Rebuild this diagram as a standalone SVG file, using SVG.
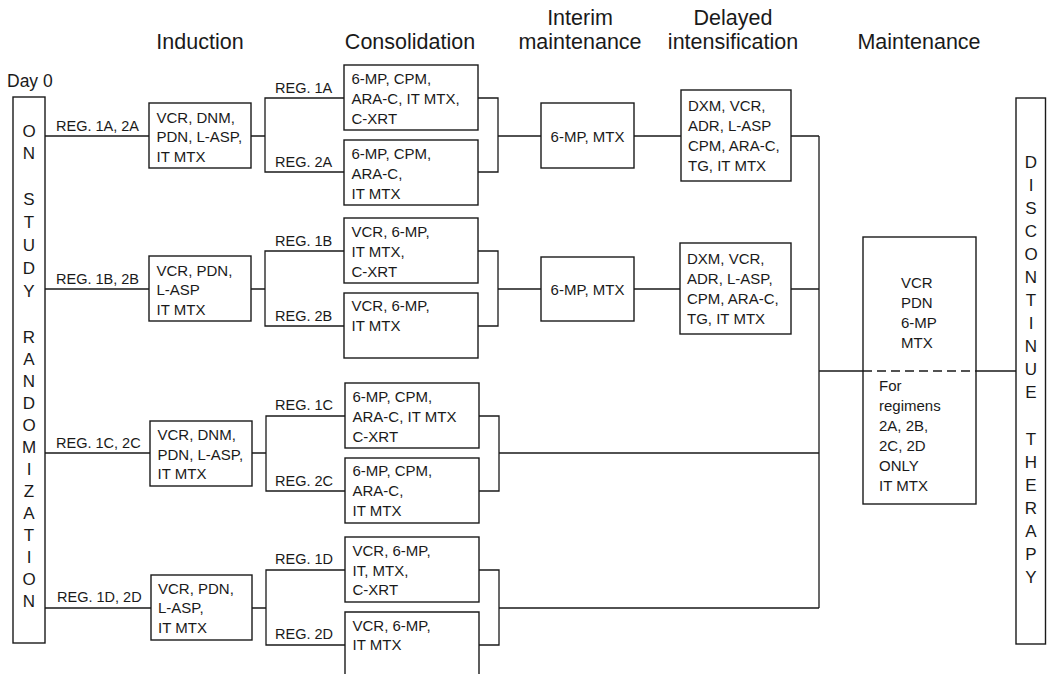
<svg xmlns="http://www.w3.org/2000/svg" width="1047" height="674" viewBox="0 0 1047 674">
<style>
.box{fill:none;stroke:#1a1a1a;stroke-width:1.4}
.ln{fill:none;stroke:#1a1a1a;stroke-width:1.3}
.dash{fill:none;stroke:#1a1a1a;stroke-width:1.3;stroke-dasharray:9 5}
text{font-family:"Liberation Sans",Arial,sans-serif;fill:#1a1a1a}
.t{font-size:15px}
.reg{font-size:14.5px}
.title{font-size:21.5px;text-anchor:middle}
.v{font-size:17px;text-anchor:middle}
</style>
<rect width="1047" height="674" fill="#fff"/>
<g id="connectors">
<path class="ln" d="M45,136H149M251,136H265M344,98H265V172H344M478,98H498V172H478M498,136H541M634,136H681M791,136H819"/>
<path class="ln" d="M45,289H149M251,289H265M344,251H265V326H344M478,251H498V326H478M498,289H541M634,289H680M791,289H819"/>
<path class="ln" d="M45,453H150M252,453H266M345,416H266V491H345M479,416H499V491H479M499,453H819"/>
<path class="ln" d="M45,608H151M252,608H266M345,570H266V645H345M479,570H499V645H479M499,608H819"/>
<path class="ln" d="M819,136V608M819,371H863M976,371H1016"/>
<path class="dash" d="M863,371H976"/>
</g>
<g id="labels">
<text class="title" x="200" y="49">Induction</text>
<text class="title" x="410" y="49">Consolidation</text>
<text class="title" x="580" y="25">Interim</text>
<text class="title" x="580" y="49">maintenance</text>
<text class="title" x="733" y="25">Delayed</text>
<text class="title" x="733" y="49">intensification</text>
<text class="title" x="919" y="49">Maintenance</text>
<text x="7" y="87" style="font-size:17.5px">Day 0</text>
<g class="reg">
<text class="reg" x="56" y="131">REG. 1A, 2A</text>
<text class="reg" x="275" y="93">REG. 1A</text>
<text class="reg" x="275" y="167">REG. 2A</text>
<text class="reg" x="56" y="284">REG. 1B, 2B</text>
<text class="reg" x="275" y="246">REG. 1B</text>
<text class="reg" x="275" y="321">REG. 2B</text>
<text class="reg" x="56" y="448">REG. 1C, 2C</text>
<text class="reg" x="275" y="410">REG. 1C</text>
<text class="reg" x="275" y="486">REG. 2C</text>
<text class="reg" x="57" y="602">REG. 1D, 2D</text>
<text class="reg" x="275" y="564">REG. 1D</text>
<text class="reg" x="275" y="639">REG. 2D</text>
</g>
</g>
<g id="start">
<rect class="box" x="13" y="97" width="32" height="546"/>
<text class="v"><tspan x="29" y="137">O</tspan><tspan x="29" y="159">N</tspan><tspan x="29" y="205">S</tspan><tspan x="29" y="228">T</tspan><tspan x="29" y="251">U</tspan><tspan x="29" y="274">D</tspan><tspan x="29" y="297">Y</tspan><tspan x="29" y="343">R</tspan><tspan x="29" y="365">A</tspan><tspan x="29" y="387">N</tspan><tspan x="29" y="409">D</tspan><tspan x="29" y="431">O</tspan><tspan x="29" y="453">M</tspan><tspan x="29" y="475">I</tspan><tspan x="29" y="497">Z</tspan><tspan x="29" y="519">A</tspan><tspan x="29" y="541">T</tspan><tspan x="29" y="563">I</tspan><tspan x="29" y="585">O</tspan><tspan x="29" y="607">N</tspan></text>
</g>
<g id="end">
<rect class="box" x="1016" y="98" width="29.5" height="546"/>
<text class="v"><tspan x="1031" y="168">D</tspan><tspan x="1031" y="191">I</tspan><tspan x="1031" y="214">S</tspan><tspan x="1031" y="237">C</tspan><tspan x="1031" y="260">O</tspan><tspan x="1031" y="283">N</tspan><tspan x="1031" y="306">T</tspan><tspan x="1031" y="329">I</tspan><tspan x="1031" y="352">N</tspan><tspan x="1031" y="375">U</tspan><tspan x="1031" y="398">E</tspan><tspan x="1031" y="445">T</tspan><tspan x="1031" y="468">H</tspan><tspan x="1031" y="491">E</tspan><tspan x="1031" y="514">R</tspan><tspan x="1031" y="537">A</tspan><tspan x="1031" y="560">P</tspan><tspan x="1031" y="583">Y</tspan></text>
</g>
<g id="ind-A"><rect class="box" x="149" y="103" width="102" height="65"/>
<text class="t"><tspan x="156.5" y="122.5">VCR, DNM,</tspan><tspan x="156.5" y="142">PDN, L-ASP,</tspan><tspan x="156.5" y="161.5">IT MTX</tspan></text></g>
<g id="cons-1A"><rect class="box" x="344" y="65" width="134" height="65"/>
<text class="t"><tspan x="351.5" y="83.5">6-MP, CPM,</tspan><tspan x="351.5" y="103.5">ARA-C, IT MTX,</tspan><tspan x="351.5" y="123.5">C-XRT</tspan></text></g>
<g id="cons-2A"><rect class="box" x="344" y="140" width="134" height="65"/>
<text class="t"><tspan x="351.5" y="158.5">6-MP, CPM,</tspan><tspan x="351.5" y="178.5">ARA-C,</tspan><tspan x="351.5" y="198.5">IT MTX</tspan></text></g>
<g id="int-A"><rect class="box" x="541" y="103" width="93" height="65"/>
<text class="t" x="587.5" y="141.5" text-anchor="middle">6-MP, MTX</text></g>
<g id="del-A"><rect class="box" x="681" y="90" width="110" height="91"/>
<text class="t"><tspan x="688" y="111">DXM, VCR,</tspan><tspan x="688" y="131">ADR, L-ASP</tspan><tspan x="688" y="151">CPM, ARA-C,</tspan><tspan x="688" y="171">TG, IT MTX</tspan></text></g>
<g id="ind-B"><rect class="box" x="149" y="256" width="102" height="65"/>
<text class="t"><tspan x="156.5" y="275.5">VCR, PDN,</tspan><tspan x="156.5" y="295">L-ASP</tspan><tspan x="156.5" y="314.5">IT MTX</tspan></text></g>
<g id="cons-1B"><rect class="box" x="344" y="218" width="134" height="65"/>
<text class="t"><tspan x="351.5" y="236.5">VCR, 6-MP,</tspan><tspan x="351.5" y="256.5">IT MTX,</tspan><tspan x="351.5" y="276.5">C-XRT</tspan></text></g>
<g id="cons-2B"><rect class="box" x="344" y="293" width="134" height="65"/>
<text class="t"><tspan x="351.5" y="311">VCR, 6-MP,</tspan><tspan x="351.5" y="331">IT MTX</tspan></text></g>
<g id="int-B"><rect class="box" x="541" y="257" width="93" height="64"/>
<text class="t" x="587.5" y="294.5" text-anchor="middle">6-MP, MTX</text></g>
<g id="del-B"><rect class="box" x="680" y="243" width="111" height="91"/>
<text class="t"><tspan x="687" y="264">DXM, VCR,</tspan><tspan x="687" y="284">ADR, L-ASP,</tspan><tspan x="687" y="304">CPM, ARA-C,</tspan><tspan x="687" y="324">TG, IT MTX</tspan></text></g>
<g id="ind-C"><rect class="box" x="150" y="421" width="102" height="65"/>
<text class="t"><tspan x="157.5" y="440">VCR, DNM,</tspan><tspan x="157.5" y="459.5">PDN, L-ASP,</tspan><tspan x="157.5" y="479">IT MTX</tspan></text></g>
<g id="cons-1C"><rect class="box" x="345" y="383" width="134" height="65"/>
<text class="t"><tspan x="352.5" y="401.5">6-MP, CPM,</tspan><tspan x="352.5" y="421.5">ARA-C, IT MTX</tspan><tspan x="352.5" y="441.5">C-XRT</tspan></text></g>
<g id="cons-2C"><rect class="box" x="345" y="458" width="134" height="65"/>
<text class="t"><tspan x="352.5" y="476">6-MP, CPM,</tspan><tspan x="352.5" y="496">ARA-C,</tspan><tspan x="352.5" y="516">IT MTX</tspan></text></g>
<g id="ind-D"><rect class="box" x="151" y="575" width="101" height="65"/>
<text class="t"><tspan x="158" y="594">VCR, PDN,</tspan><tspan x="158" y="613">L-ASP,</tspan><tspan x="158" y="632.5">IT MTX</tspan></text></g>
<g id="cons-1D"><rect class="box" x="345" y="537" width="134" height="65"/>
<text class="t"><tspan x="352.5" y="556">VCR, 6-MP,</tspan><tspan x="352.5" y="575.5">IT, MTX,</tspan><tspan x="352.5" y="595">C-XRT</tspan></text></g>
<g id="cons-2D"><path class="box" d="M345,675V612H479V675"/>
<text class="t"><tspan x="352.5" y="630.5">VCR, 6-MP,</tspan><tspan x="352.5" y="650">IT MTX</tspan></text></g>
<g id="maint"><rect class="box" x="863" y="237" width="113" height="267"/>
<text class="t"><tspan x="901" y="287.5">VCR</tspan><tspan x="901" y="307.5">PDN</tspan><tspan x="901" y="327.5">6-MP</tspan><tspan x="901" y="347.5">MTX</tspan><tspan x="879" y="391">For</tspan><tspan x="879" y="411">regimens</tspan><tspan x="879" y="431">2A, 2B,</tspan><tspan x="879" y="451">2C, 2D</tspan><tspan x="879" y="471">ONLY</tspan><tspan x="879" y="491">IT MTX</tspan></text></g>
</svg>
